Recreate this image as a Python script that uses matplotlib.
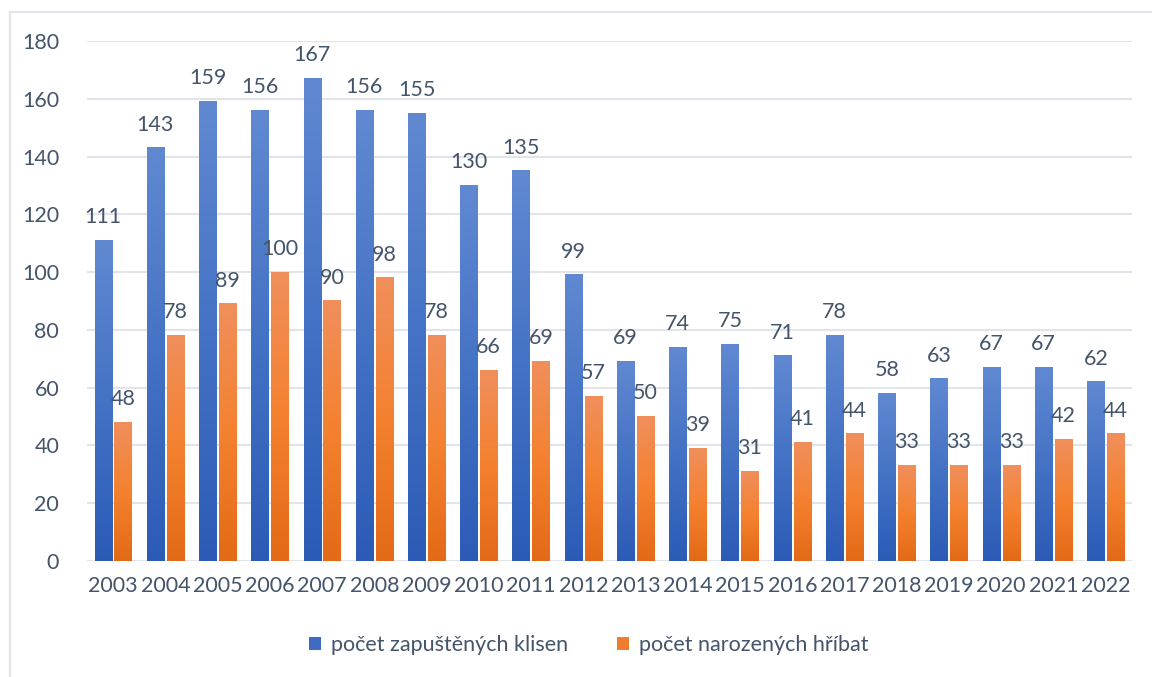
import numpy as np
import matplotlib
matplotlib.use("Agg")
import matplotlib.pyplot as plt
from matplotlib.colors import LinearSegmentedColormap
from matplotlib.lines import Line2D
from matplotlib.patches import Patch

plt.rcParams["font.family"] = ["Lato", "DejaVu Sans"]

years = [str(y) for y in range(2003, 2023)]
klisny = [111, 143, 159, 156, 167, 156, 155, 130, 135, 99,
          69, 74, 75, 71, 78, 58, 63, 67, 67, 62]
hribata = [48, 78, 89, 100, 90, 98, 78, 66, 69, 57,
           50, 39, 31, 41, 44, 33, 33, 33, 42, 44]
labels = ["počet zapuštěných klisen", "počet narozených hříbat"]

txt = "#44546A"
grid_c = "#E1E4EA"
fs = 15.5
blue_cm = LinearSegmentedColormap.from_list("b", ["#2C5BB7", "#4472C4", "#6189D2"])
orange_cm = LinearSegmentedColormap.from_list("o", ["#E36A17", "#F4812F", "#F08F5C"])

fig = plt.figure(figsize=(11.52, 6.77), dpi=100)
ax = fig.add_axes([0.0755, 0.1713, 0.907, 0.7681])

x = np.arange(len(years))
w = 0.33
off = 0.19
grad = np.linspace(0, 1, 256).reshape(-1, 1)

for xi, b, o in zip(x, klisny, hribata):
    for val, xc, cm in ((b, xi - off, blue_cm), (o, xi + off, orange_cm)):
        ax.imshow(grad, extent=[xc - w / 2, xc + w / 2, 0, val], origin="lower",
                  aspect="auto", cmap=cm, zorder=3)
        ax.text(xc, val + 6, str(val), ha="center", va="baseline",
                fontsize=fs, color=txt, zorder=4)

ax.set_xlim(-0.5, len(years) - 0.5)
ax.set_ylim(0, 180)
ax.set_yticks(range(0, 181, 20))
ax.set_xticks(x)
ax.set_xticklabels(years)
ax.grid(axis="y", color=grid_c, linewidth=1.5, zorder=0)
ax.set_axisbelow(True)
for s in ax.spines.values():
    s.set_visible(False)
ax.tick_params(length=0, labelsize=fs, labelcolor=txt)
ax.tick_params(axis="y", pad=20)
ax.tick_params(axis="x", pad=11)

handles = [Patch(facecolor="#3F6BC3"), Patch(facecolor="#F07C30")]
fig.legend(handles, labels, loc="center", bbox_to_anchor=(0.511, 0.047),
           ncol=2, frameon=False, fontsize=fs, labelcolor=txt,
           handlelength=0.55, handleheight=0.55, handletextpad=0.45,
           columnspacing=2.3)

# outer chart border (left and top edges visible)
fig.add_artist(Line2D([10 / 1152, 10 / 1152], [0, 1 - 12 / 677],
                      transform=fig.transFigure, color=grid_c, linewidth=1.5))
fig.add_artist(Line2D([10 / 1152, 1], [1 - 12 / 677, 1 - 12 / 677],
                      transform=fig.transFigure, color=grid_c, linewidth=1.5))

fig.savefig("out.png", dpi=100)
